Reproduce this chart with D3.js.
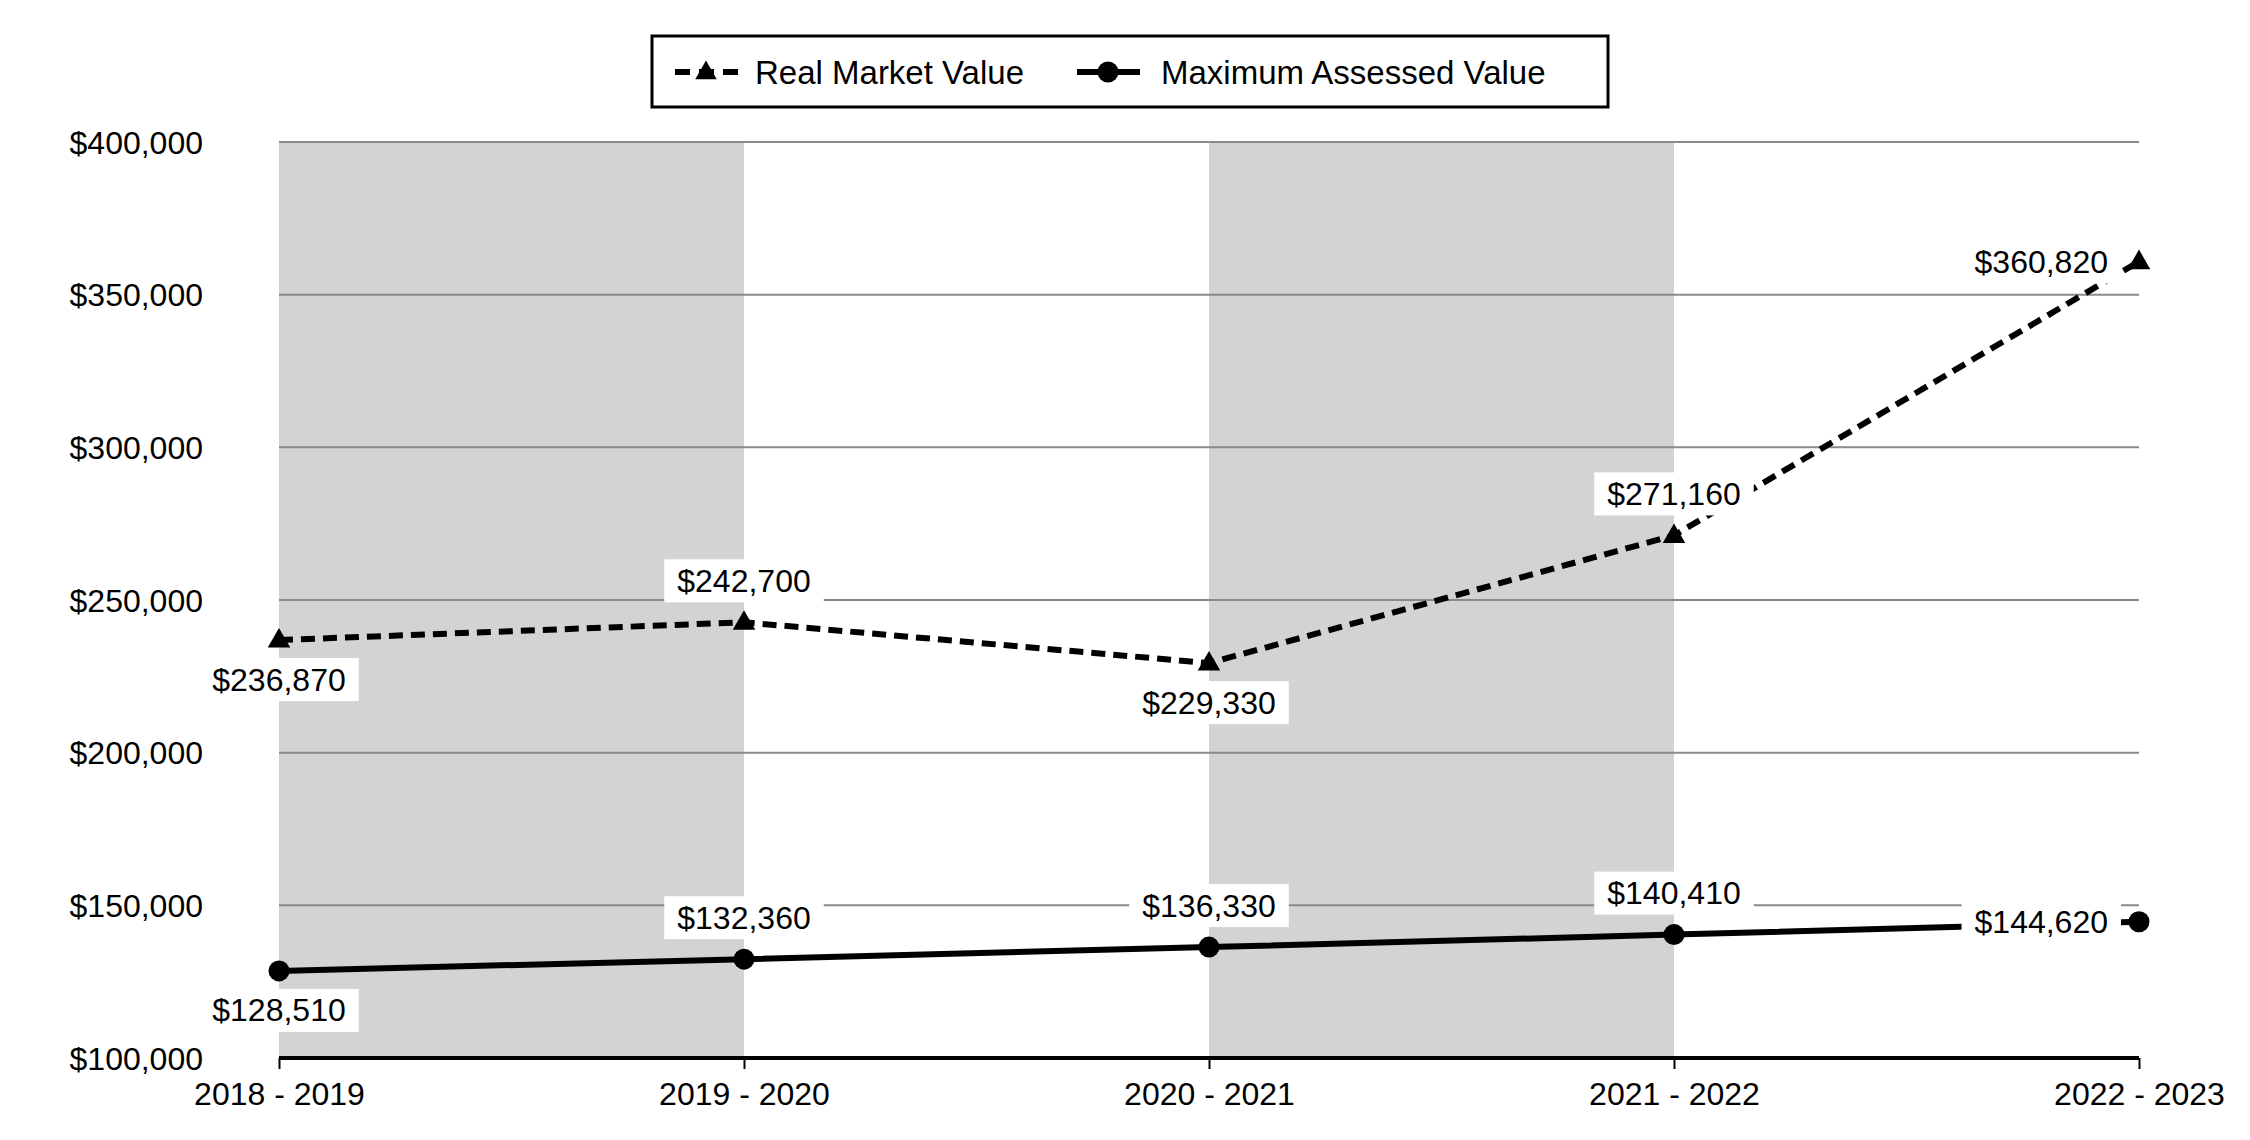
<!DOCTYPE html>
<html>
<head>
<meta charset="utf-8">
<script src="https://cdn.jsdelivr.net/npm/d3@7"></script>
<style>
  html, body { margin: 0; padding: 0; background: #fff; }
  svg { display: block; }
  text { font-family: "Liberation Sans", Arial, sans-serif; fill: #000; }
</style>
</head>
<body>
<svg id="chart" width="2250" height="1140"></svg>
<script>
const categories = ["2018 - 2019", "2019 - 2020", "2020 - 2021", "2021 - 2022", "2022 - 2023"];
const realMarketValue = [236870, 242700, 229330, 271160, 360820];
const maxAssessedValue = [128510, 132360, 136330, 140410, 144620];
const rmvLabelPos = ["below", "above", "below", "above", "left"];
const mavLabelPos = ["below", "above", "above", "above", "left"];
const yTicks = [100000, 150000, 200000, 250000, 300000, 350000, 400000];
const seriesNames = ["Real Market Value", "Maximum Assessed Value"];

(function () {
const svg = d3.select("#chart");
const pLeft = 279, pRight = 2139, pTop = 142, pBottom = 1058;
const x = d3.scalePoint().domain(categories).range([pLeft, pRight]);
const y = d3.scaleLinear().domain([100000, 400000]).range([pBottom, pTop]);
const fmt = v => "$" + d3.format(",")(v);

// shaded bands
const bandIdx = [0, 2];
svg.append("g").selectAll("rect").data(bandIdx).join("rect")
  .attr("x", i => x(categories[i]))
  .attr("y", pTop)
  .attr("width", i => x(categories[i + 1]) - x(categories[i]))
  .attr("height", pBottom - pTop)
  .attr("fill", "#d3d3d3");

// gridlines
svg.append("g").selectAll("line").data(yTicks.filter(v => v > 100000)).join("line")
  .attr("x1", pLeft).attr("x2", pRight)
  .attr("y1", d => y(d)).attr("y2", d => y(d))
  .attr("stroke", "#8a8a8a").attr("stroke-width", 2);

// y tick labels
svg.append("g").selectAll("text").data(yTicks).join("text")
  .attr("x", 203).attr("y", d => y(d)).attr("dy", "0.36em")
  .attr("text-anchor", "end").attr("font-size", 32)
  .text(fmt);

// x axis
const xAxis = d3.axisBottom(x).tickSize(11).tickPadding(14).tickSizeOuter(0);
const gx = svg.append("g").attr("transform", `translate(0,${pBottom})`).call(xAxis);
gx.select(".domain").attr("stroke", "#000").attr("stroke-width", 4).attr("d", `M${pLeft},0H${pRight}`);
gx.selectAll(".tick line").attr("stroke", "#000").attr("stroke-width", 2);
gx.selectAll(".tick text").attr("font-size", 32).attr("dy", null).attr("y", 47)
  .attr("font-family", "Liberation Sans, Arial, sans-serif").attr("fill", "#000");

// lines
const line = d3.line().x((d, i) => x(categories[i])).y(d => y(d));
svg.append("path").datum(realMarketValue).attr("d", line)
  .attr("fill", "none").attr("stroke", "#000").attr("stroke-width", 6)
  .attr("stroke-dasharray", "14,8");
svg.append("path").datum(maxAssessedValue).attr("d", line)
  .attr("fill", "none").attr("stroke", "#000").attr("stroke-width", 6);

// labels
function drawLabels(values, positions) {
  const g = svg.append("g");
  values.forEach((v, i) => {
    const px = x(categories[i]), py = y(v);
    const pos = positions[i];
    const t = g.append("text").attr("font-size", 32).text(fmt(v));
    let cx, cy, anchor;
    if (pos === "above") { cx = px; cy = py - 42; anchor = "middle"; }
    else if (pos === "below") { cx = px; cy = py + 39; anchor = "middle"; }
    else { cx = px - 31; cy = py; anchor = "end"; }
    t.attr("x", cx).attr("y", cy).attr("dy", "0.36em").attr("text-anchor", anchor);
    const bb = t.node().getBBox();
    g.insert("rect", () => t.node())
      .attr("x", bb.x - 13).attr("y", cy - 21)
      .attr("width", bb.width + 26).attr("height", 43)
      .attr("fill", "#fff");
  });
}
drawLabels(realMarketValue, rmvLabelPos);
drawLabels(maxAssessedValue, mavLabelPos);

// markers
const tri = d3.symbol().type(d3.symbolTriangle).size(220);
svg.append("g").selectAll("path").data(realMarketValue).join("path")
  .attr("d", tri)
  .attr("transform", (d, i) => `translate(${x(categories[i])},${y(d) + 1})`)
  .attr("fill", "#000");
svg.append("g").selectAll("circle").data(maxAssessedValue).join("circle")
  .attr("cx", (d, i) => x(categories[i])).attr("cy", d => y(d)).attr("r", 10.5)
  .attr("fill", "#000");

// legend
const lg = svg.append("g");
lg.append("rect").attr("x", 652).attr("y", 36).attr("width", 956).attr("height", 71)
  .attr("fill", "#fff").attr("stroke", "#000").attr("stroke-width", 3);
const ly = 72;
lg.append("line").attr("x1", 675).attr("x2", 738).attr("y1", ly).attr("y2", ly)
  .attr("stroke", "#000").attr("stroke-width", 6).attr("stroke-dasharray", "15,9");
lg.append("path").attr("d", d3.symbol().type(d3.symbolTriangle).size(200)())
  .attr("transform", `translate(706,${ly + 1})`).attr("fill", "#000");
lg.append("text").attr("x", 755).attr("y", ly).attr("dy", "0.36em").attr("font-size", 33)
  .text(seriesNames[0]);
lg.append("line").attr("x1", 1077).attr("x2", 1140).attr("y1", ly).attr("y2", ly)
  .attr("stroke", "#000").attr("stroke-width", 6);
lg.append("circle").attr("cx", 1108).attr("cy", ly).attr("r", 10.5).attr("fill", "#000");
lg.append("text").attr("x", 1161).attr("y", ly).attr("dy", "0.36em").attr("font-size", 33)
  .text(seriesNames[1]);
})();
</script>
</body>
</html>
